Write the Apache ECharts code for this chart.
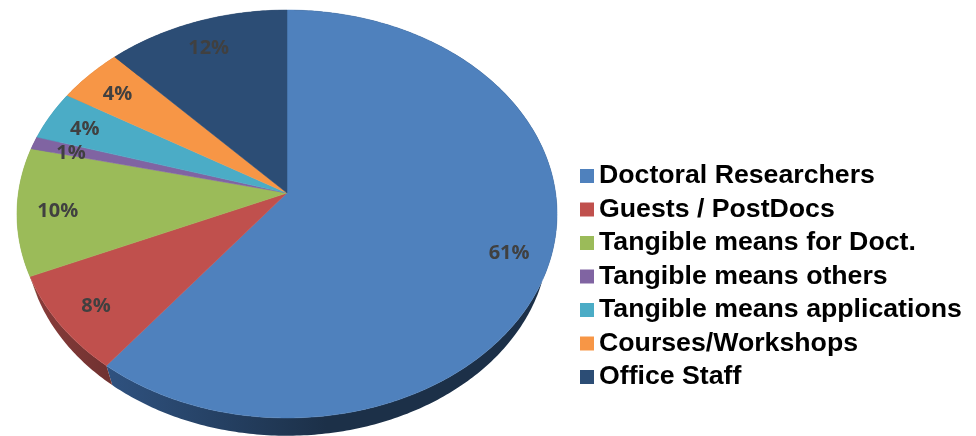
<!DOCTYPE html>
<html>
<head>
<meta charset="utf-8">
<style>html,body{margin:0;padding:0;background:#fff}#c{width:976px;height:436px}</style>
<script src="https://cdn.jsdelivr.net/npm/echarts@6/dist/echarts.min.js"></script>
</head>
<body>
<div id="c"></div>
<script>
const categories = ["Doctoral Researchers","Guests / PostDocs","Tangible means for Doct.","Tangible means others","Tangible means applications","Courses/Workshops","Office Staff"];
const shares = [60.6,7.9,10.1,1.0,3.9,4.4,12.1];
const faceColors = ["#4f81bd","#c0504d","#9bbb59","#8064a2","#4bacc6","#f79646","#2c4d75"];
const sideLeft = ["#2f5280","#8a3d3b","#7f9a4b","#5f4a7a","#38809a","#b86f33","#203a58"];
const sideRight = ["#1c3048","#6f3130","#7f9a4b","#5f4a7a","#38809a","#b86f33","#203a58"];

const apexX = 287, apexY = 193, A = 268.6, B = 201.8, K = 0.1029;
const S = 0.968, DY = 25, LABEL_R = 0.85, LABEL_DY = 3;
const total = shares.reduce((a,b)=>a+b,0);
function startAngle(i){let s=0;for(let k=0;k<i;k++)s+=shares[k];return s/total*Math.PI*2;}
function proj(t,r){const u=Math.sin(t)*r,v=Math.cos(t)*r,d=1+K*v;return [A*u/d,-B*v/d];}
function face(t,r){const p=proj(t,r);return [apexX+p[0],apexY+p[1]];}
function bottom(t){const p=proj(t,1);return [apexX+p[0]*S,apexY+p[1]*S+DY];}
function arc(i,fn){const a=startAngle(i),b=startAngle(i+1),n=Math.max(8,Math.ceil((b-a)*80)),o=[];
  for(let j=0;j<=n;j++)o.push(fn(a+(b-a)*j/n));return o;}

function renderFace(i){return function(params,api){
  const pts=[[apexX,apexY]].concat(arc(i,t=>face(t,1)));
  const mid=(startAngle(i)+startAngle(i+1))/2,lp=face(mid,LABEL_R);
  return {type:'group',children:[
    {type:'polygon',shape:{points:pts},style:{fill:api.visual('color'),stroke:api.visual('color'),lineWidth:0.5}},
    {type:'text',x:lp[0],y:lp[1]+LABEL_DY,z2:10,style:{text:Math.round(api.value(0))+'%',fill:'#404040',
      font:'bold 20px "Open Sans"',align:'center',verticalAlign:'middle'}}
  ]};
};}
function renderSide(i){return function(){
  const top=arc(i,t=>face(t,1)),bot=arc(i,bottom).reverse();
  const xs=top.concat(bot).map(p=>p[0]);
  const x0=Math.min(...xs),x1=Math.max(...xs);
  return {type:'polygon',shape:{points:top.concat(bot)},style:{fill:new echarts.graphic.LinearGradient(x0,0,Math.min(x1,x0+220),0,
    [{offset:0,color:sideLeft[i]},{offset:1,color:sideRight[i]}],true)}};
};}

const series=[];
categories.forEach((name,i)=>{
  series.push({type:'custom',name:'side'+i,coordinateSystem:'none',z:1,silent:true,data:[[shares[i]]],renderItem:renderSide(i)});
});
categories.forEach((name,i)=>{
  series.push({type:'custom',name:name,coordinateSystem:'none',z:3,silent:true,data:[[shares[i]]],
    itemStyle:{color:faceColors[i]},renderItem:renderFace(i)});
});
const chart=echarts.init(document.getElementById('c'),null,{renderer:'canvas'});
chart.setOption({
  animation:false,
  backgroundColor:'#fff',
  legend:{data:categories,orient:'vertical',left:580,top:162,padding:0,itemWidth:14,itemHeight:14,itemGap:5.5,selectedMode:false,icon:'rect',
    textStyle:{fontFamily:'Liberation Sans',fontWeight:'bold',fontSize:26.7,color:'#000',lineHeight:28}},
  series:series
});
</script>
</body>
</html>
